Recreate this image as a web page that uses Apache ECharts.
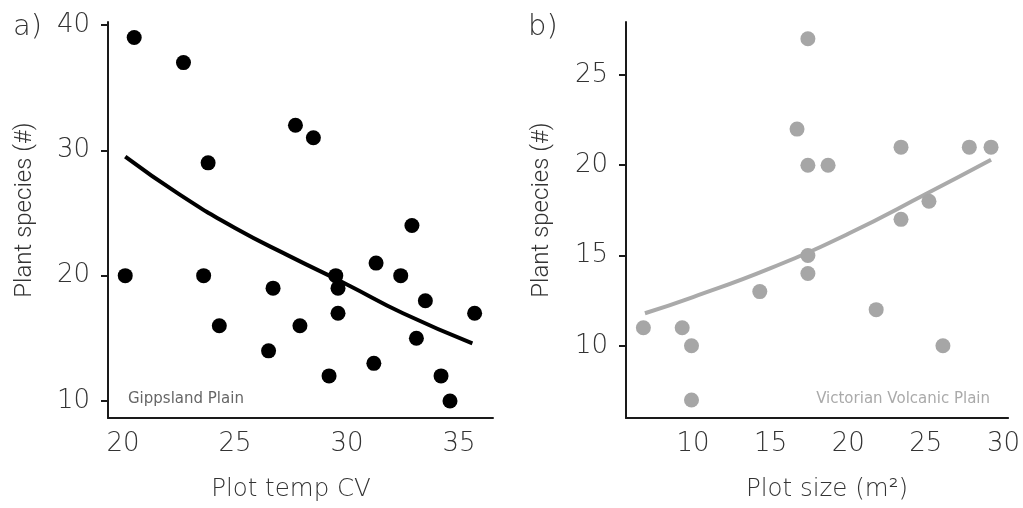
<!DOCTYPE html>
<html>
<head>
<meta charset="utf-8">
<script src="https://cdn.jsdelivr.net/npm/echarts@6/dist/echarts.min.js"></script>
<style>
html,body{margin:0;padding:0;background:#fff;}
#chart{width:1023px;height:508px;}
</style>
</head>
<body>
<div id="chart"></div>
<script>
// Panel a: Gippsland Plain
const tempCV = [20.5, 22.7, 23.8, 27.7, 28.5, 32.9, 20.1, 23.6, 24.3, 26.7, 26.5, 27.9, 29.5, 29.6, 29.6, 29.2, 31.3, 31.2, 32.4, 33.5, 33.1, 34.2, 34.6, 35.7];
const speciesA = [39, 37, 29, 32, 31, 24, 20, 20, 16, 19, 14, 16, 20, 19, 17, 12, 21, 13, 20, 18, 15, 12, 10, 17];
const fitA_x = [20.1, 22.5, 25, 27.5, 30, 32.5, 35.6];
const fitA_y = [29.5, 26.5, 23.8, 21.5, 19.3, 17.0, 14.6];
const ticksAx = [20, 25, 30, 35];
const ticksAy = [10, 20, 30, 40];

// Panel b: Victorian Volcanic Plain
const plotSize = [17.4, 16.7, 17.4, 18.7, 23.4, 27.8, 29.2, 25.2, 23.4, 17.4, 17.4, 14.3, 21.8, 6.8, 9.3, 9.9, 9.9, 26.1];
const speciesB = [27, 22, 20, 20, 21, 21, 21, 18, 17, 15, 14, 13, 12, 11, 11, 10, 7, 10];
const fitB_x = [6.9, 10, 15, 20, 25, 29.2];
const fitB_y = [11.8, 12.7, 14.3, 16.2, 18.4, 20.3];
const ticksBx = [10, 15, 20, 25, 30];
const ticksBy = [10, 15, 20, 25];

const zip = (a, b) => a.map((v, i) => [v, b[i]]);
const FONT = "'DejaVu Sans'";
const TXT = '#333333';

function xAxis(idx, min, max, ticks) {
  return {
    type: 'value', gridIndex: idx, min: min, max: max,
    axisLine: {show: true, onZero: false, lineStyle: {color: '#1a1a1a', width: 2}},
    axisTick: {show: false},
    splitLine: {show: false},
    axisLabel: {customValues: ticks, margin: 13, fontSize: 26, fontFamily: FONT, fontWeight: 300, color: TXT}
  };
}
function yAxis(idx, min, max, ticks) {
  return {
    type: 'value', gridIndex: idx, min: min, max: max,
    axisLine: {show: true, onZero: false, lineStyle: {color: '#1a1a1a', width: 2}},
    axisTick: {show: true, customValues: ticks, length: 7, lineStyle: {color: '#1a1a1a', width: 2}},
    splitLine: {show: false},
    axisLabel: {customValues: ticks, margin: 18, fontSize: 26, fontFamily: FONT, fontWeight: 300, color: TXT}
  };
}

const chart = echarts.init(document.getElementById('chart'), null, {renderer: 'canvas'});
chart.setOption({
  backgroundColor: '#fff',
  animation: false,
  grid: [
    {left: 108, top: 22, width: 385, height: 396},
    {left: 626, top: 22, width: 384, height: 396}
  ],
  xAxis: [xAxis(0, 19.33, 36.52, ticksAx), xAxis(1, 5.68, 30.3, ticksBx)],
  yAxis: [yAxis(0, 8.64, 40.24, ticksAy), yAxis(1, 6.0, 27.93, ticksBy)],
  series: [
    {type: 'scatter', xAxisIndex: 0, yAxisIndex: 0, data: zip(tempCV, speciesA), symbolSize: 15, itemStyle: {color: '#000', opacity: 1}, z: 3},
    {type: 'line', xAxisIndex: 0, yAxisIndex: 0, data: zip(fitA_x, fitA_y), smooth: true, showSymbol: false, lineStyle: {color: '#000', width: 4}, z: 2},
    {type: 'scatter', xAxisIndex: 1, yAxisIndex: 1, data: zip(plotSize, speciesB), symbolSize: 15, itemStyle: {color: '#a6a6a6', opacity: 1}, z: 3},
    {type: 'line', xAxisIndex: 1, yAxisIndex: 1, data: zip(fitB_x, fitB_y), smooth: true, showSymbol: false, lineStyle: {color: '#aaaaaa', width: 4}, z: 2}
  ],
  graphic: [
    {type: 'text', x: 13, y: 27, style: {text: 'a)', font: "300 29px 'DejaVu Sans'", fill: TXT, textAlign: 'left', textVerticalAlign: 'middle'}},
    {type: 'text', x: 528, y: 27, style: {text: 'b)', font: "300 29px 'DejaVu Sans'", fill: TXT, textAlign: 'left', textVerticalAlign: 'middle'}},
    {type: 'text', x: 291, y: 490, style: {text: 'Plot temp CV', font: "300 24.5px 'DejaVu Sans'", fill: TXT, textAlign: 'center', textVerticalAlign: 'middle'}},
    {type: 'text', x: 827, y: 490, style: {text: 'Plot size (m²)', font: "300 24.5px 'DejaVu Sans'", fill: TXT, textAlign: 'center', textVerticalAlign: 'middle'}},
    {type: 'text', x: 25, y: 210, rotation: Math.PI / 2, style: {text: 'Plant species (#)', font: "300 24px Roboto, 'Liberation Sans'", fill: TXT, textAlign: 'center', textVerticalAlign: 'middle'}},
    {type: 'text', x: 542, y: 210, rotation: Math.PI / 2, style: {text: 'Plant species (#)', font: "300 24px Roboto, 'Liberation Sans'", fill: TXT, textAlign: 'center', textVerticalAlign: 'middle'}},
    {type: 'text', x: 128, y: 399, style: {text: 'Gippsland Plain', font: "15px 'DejaVu Sans'", fill: '#666', textAlign: 'left', textVerticalAlign: 'middle'}},
    {type: 'text', x: 990, y: 399, style: {text: 'Victorian Volcanic Plain', font: "15px 'DejaVu Sans'", fill: '#aaa', textAlign: 'right', textVerticalAlign: 'middle'}}
  ]
});
</script>
</body>
</html>
